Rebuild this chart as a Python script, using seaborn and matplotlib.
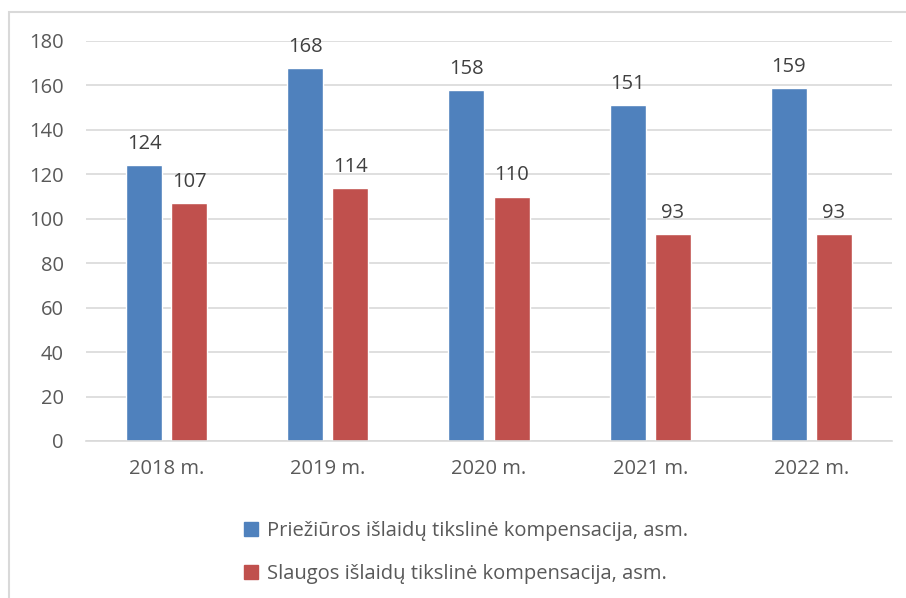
import pandas as pd
import matplotlib.pyplot as plt
import matplotlib.patches as mpatches
import seaborn as sns

years = ['2018 m.', '2019 m.', '2020 m.', '2021 m.', '2022 m.']
prieziura = [124, 168, 158, 151, 159]
slauga = [107, 114, 110, 93, 93]
series_names = ['Priežiūros išlaidų tikslinė kompensacija, asm.',
                'Slaugos išlaidų tikslinė kompensacija, asm.']
colors = ['#4F81BD', '#C0504D']

df = pd.DataFrame({
    'year': years * 2,
    'value': prieziura + slauga,
    'series': [series_names[0]] * len(years) + [series_names[1]] * len(years),
})

sns.set_style("white")
plt.rcParams['font.family'] = ['Open Sans', 'DejaVu Sans']
fs = 14.5

fig = plt.figure(figsize=(9.06, 5.98), dpi=100)
ax = fig.add_axes([86 / 906, 1 - 441 / 598, (892 - 86) / 906, 400 / 598])

sns.barplot(data=df, x='year', y='value', hue='series', palette=colors,
            width=0.56, gap=0.2, ax=ax, saturation=1, legend=False)

for cont in ax.containers:
    ax.bar_label(cont, padding=8, fontsize=fs, color='#404040')

ax.set_ylim(0, 180)
ax.set_yticks(range(0, 181, 20))
ax.yaxis.grid(True, color='#d9d9d9', linewidth=1.2)
ax.set_axisbelow(True)
for s in ['top', 'right', 'left']:
    ax.spines[s].set_visible(False)
ax.spines['bottom'].set_color('#d9d9d9')
ax.spines['bottom'].set_linewidth(1.2)
ax.tick_params(axis='y', length=0, pad=16, labelsize=fs, labelcolor='#595959')
ax.tick_params(axis='x', length=0, pad=13, labelsize=fs, labelcolor='#595959')
ax.set_xlabel('')
ax.set_ylabel('')

handles = [mpatches.Patch(color=c, label=n) for c, n in zip(colors, series_names)]
fig.legend(handles=handles, loc='upper left', bbox_to_anchor=(226 / 906, 1 - 503 / 598),
           frameon=False, fontsize=fs, labelspacing=1.15, handlelength=0.7,
           handleheight=0.7, handletextpad=0.45, labelcolor='#595959')

# chart frame
fig.add_artist(mpatches.Rectangle((9 / 906, -0.1), 2, 1.1 - 12 / 598,
                                  transform=fig.transFigure, fill=False,
                                  edgecolor='#d9d9d9', linewidth=1.5))

fig.savefig('out.png', dpi=100)
